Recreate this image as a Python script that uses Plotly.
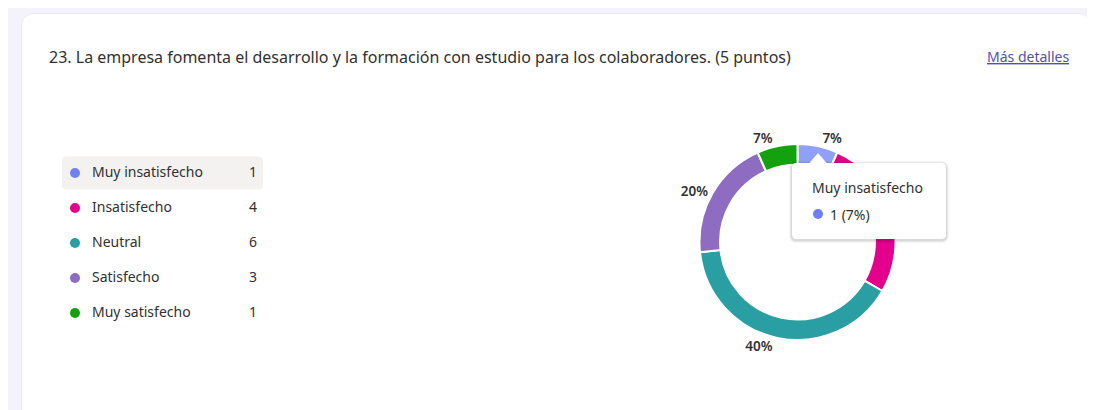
import plotly.graph_objects as go

PAGE_OFF = 8            # browser body margin
W, H = 1095 - PAGE_OFF, 410 - PAGE_OFF

title_text = "23. La empresa fomenta el desarrollo y la formación con estudio para los colaboradores. (5 puntos)"
link_text = "Más detalles"
categories = ["Muy insatisfecho", "Insatisfecho", "Neutral", "Satisfecho", "Muy satisfecho"]
counts = [1, 4, 6, 3, 1]
legend_colors = ["#6e7ff1", "#e3008c", "#2a9fa3", "#8d6cc2", "#13a10e"]
ring_colors = ["#8ea1f7", "#e3008c", "#2a9fa3", "#8d6cc2", "#13a10e"]
hover_index = 0

FONT = "Noto Sans, Open Sans, sans-serif"
TXT = "#323130"


def px(x):
    return (x - PAGE_OFF) / W


def py(y):
    return 1 - (y - PAGE_OFF) / H


def rounded_path(x0, y0, x1, y1, r):
    def P(x, y):
        return f"{px(x):.5f},{py(y):.5f}"
    k = 0.45
    pts = [
        f"M {P(x0 + r, y0)}",
        f"L {P(x1 - r, y0)}",
        f"C {P(x1 - r * k, y0)} {P(x1, y0 + r * k)} {P(x1, y0 + r)}",
        f"L {P(x1, y1 - r)}",
        f"C {P(x1, y1 - r * k)} {P(x1 - r * k, y1)} {P(x1 - r, y1)}",
        f"L {P(x0 + r, y1)}",
        f"C {P(x0 + r * k, y1)} {P(x0, y1 - r * k)} {P(x0, y1 - r)}",
        f"L {P(x0, y0 + r)}",
        f"C {P(x0, y0 + r * k)} {P(x0 + r * k, y0)} {P(x0 + r, y0)} Z",
    ]
    return " ".join(pts)


total = sum(counts)
pct = [c / total for c in counts]

fig = go.Figure()

# donut
cx, cy, R = 797.5, 242, 98
fig.add_trace(go.Pie(
    labels=categories,
    values=counts,
    sort=False,
    direction="clockwise",
    rotation=0,
    hole=0.79,
    marker=dict(colors=ring_colors, line=dict(color="white", width=2)),
    texttemplate="%{percent:.0%}",
    textposition="outside",
    textfont=dict(family=FONT, size=13.5, color=TXT, weight=600),
    domain=dict(x=[px(cx - R), px(cx + R)], y=[py(cy + R), py(cy - R)]),
    showlegend=False,
    hoverinfo="skip",
))

# legend as scatter on its own axes
row_h = 35
first_row = 173
n = len(categories)
top_px = first_row - row_h / 2
bot_px = top_px + n * row_h
fig.add_trace(go.Scatter(
    x=[75] * n, y=categories, mode="markers",
    marker=dict(size=10, color=legend_colors),
    xaxis="x2", yaxis="y2", showlegend=False, hoverinfo="skip", cliponaxis=False,
))
fig.add_trace(go.Scatter(
    x=[92] * n, y=categories, mode="text", text=categories,
    textposition="middle right",
    textfont=dict(family=FONT, size=14, color=TXT),
    xaxis="x2", yaxis="y2", showlegend=False, hoverinfo="skip", cliponaxis=False,
))
fig.add_trace(go.Scatter(
    x=[257] * n, y=categories, mode="text", text=[str(c) for c in counts],
    textposition="middle left",
    textfont=dict(family=FONT, size=14, color=TXT),
    xaxis="x2", yaxis="y2", showlegend=False, hoverinfo="skip", cliponaxis=False,
))

shapes = []
# card
shapes.append(dict(type="path", xref="paper", yref="paper",
                   path=rounded_path(21, 13, 1092, 430, 13),
                   fillcolor="#ebeaf5", line=dict(width=0), layer="below"))
shapes.append(dict(type="path", xref="paper", yref="paper",
                   path=rounded_path(22, 14, 1091, 430, 12),
                   fillcolor="white", line=dict(width=0), layer="below"))
# highlighted legend row
hl_y = first_row + hover_index * row_h
shapes.append(dict(type="path", xref="paper", yref="paper",
                   path=rounded_path(62, hl_y - 16.5, 263, hl_y + 16.5, 4),
                   fillcolor="#f3f2f1", line=dict(width=0), layer="below"))

# tooltip with soft shadow
tx0, ty0, tx1, ty1 = 792, 163, 946, 239
for i, op in enumerate([0.04, 0.05, 0.06]):
    d = 3 - i
    shapes.append(dict(type="path", xref="paper", yref="paper",
                       path=rounded_path(tx0 - d, ty0 - d + 1, tx1 + d, ty1 + d + 1, 4 + d),
                       fillcolor=f"rgba(0,0,0,{op})", line=dict(width=0), layer="above"))
shapes.append(dict(type="path", xref="paper", yref="paper",
                   path=rounded_path(tx0, ty0, tx1, ty1, 4),
                   fillcolor="white", line=dict(width=0), layer="above"))
shapes.append(dict(type="path", xref="paper", yref="paper",
                   path=f"M {px(809):.5f},{py(ty0+0.5):.5f} L {px(818):.5f},{py(153):.5f} L {px(827):.5f},{py(ty0+0.5):.5f} Z",
                   fillcolor="white", line=dict(width=0), layer="above"))
shapes.append(dict(type="circle", xref="paper", yref="paper",
                   x0=px(813), x1=px(823), y0=py(219), y1=py(209),
                   fillcolor=legend_colors[hover_index], line=dict(width=0), layer="above"))

annotations = [
    dict(text=title_text, x=px(47), y=py(57), xref="paper", yref="paper",
         xanchor="left", yanchor="middle", showarrow=False,
         font=dict(family=FONT, size=16, color=TXT)),
    dict(text=f"<u>{link_text}</u>", x=px(1071), y=py(57), xref="paper", yref="paper",
         xanchor="right", yanchor="middle", showarrow=False,
         font=dict(family=FONT, size=14, color="#4f52b2")),
    dict(text=categories[hover_index], x=px(810), y=py(188), xref="paper", yref="paper",
         xanchor="left", yanchor="middle", showarrow=False,
         font=dict(family=FONT, size=14, color=TXT)),
    dict(text=f"{counts[hover_index]} ({pct[hover_index]:.0%})", x=px(828), y=py(214),
         xref="paper", yref="paper", xanchor="left", yanchor="middle", showarrow=False,
         font=dict(family=FONT, size=14, color=TXT)),
]

fig.update_layout(
    width=W, height=H,
    margin=dict(l=0, r=0, t=0, b=0),
    paper_bgcolor="#f4f3fb",
    plot_bgcolor="rgba(0,0,0,0)",
    shapes=shapes,
    annotations=annotations,
    xaxis2=dict(domain=[0, 1], range=[PAGE_OFF, PAGE_OFF + W], visible=False, fixedrange=True),
    yaxis2=dict(domain=[py(bot_px), py(top_px)], type="category",
                categoryorder="array", categoryarray=categories,
                range=[n - 0.5, -0.5], visible=False, fixedrange=True, anchor="x2"),
    xaxis=dict(visible=False),
    yaxis=dict(visible=False),
    hovermode=False,
)

fig.write_html("out.html")
